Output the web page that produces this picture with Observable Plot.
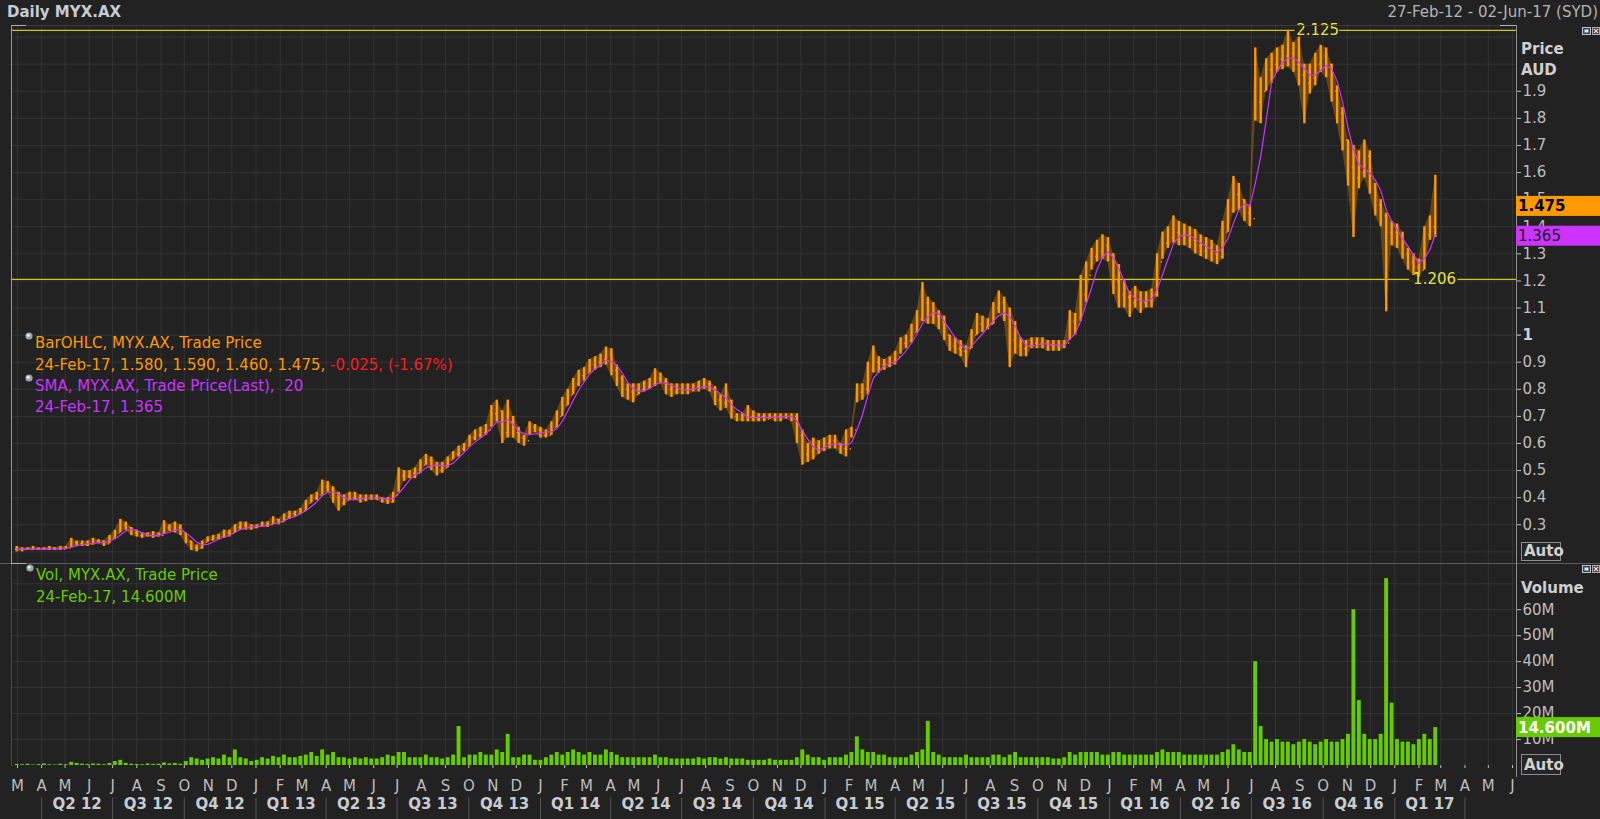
<!DOCTYPE html>
<html>
<head>
<meta charset="utf-8">
<script src="https://cdn.jsdelivr.net/npm/d3@7"></script>
<script src="https://cdn.jsdelivr.net/npm/@observablehq/plot@0.6"></script>
<style>
html, body { margin:0; padding:0; background:#222222; }
#root { position:relative; width:1600px; height:819px; background:#222222; overflow:hidden; font-family:"DejaVu Sans", Verdana, sans-serif; }
.layer { position:absolute; left:0; }
.line { position:absolute; }
</style>
</head>
<body>
<div id="root"></div>
<script>
// ---------------- DATA (weekly, week starting Monday 27-Feb-12 .. 20-Feb-17) ----------------
const firstWeek = "2012-02-27";
const lastWeek = "2017-02-20";

const high = [
  // 2012  Mar(5) Apr(5) May(4) Jun(4) Jul(5) Aug(4) Sep(4) Oct(5) Nov(4) Dec(5)
  .22,.215,.215,.22,.215, .215,.22,.215,.22,.22, .25,.24,.24,.24, .25,.245,.24,.26,
  .28,.32,.31,.29,.28, .27,.27,.275,.27, .315,.30,.31,.30, .27,.24,.225,.24,.255,
  .26,.265,.28,.28, .30,.31,.31,.30,.30,
  // 2013
  .31,.31,.33,.32, .34,.35,.35,.36, .39,.41,.42,.465, .46,.44,.42,.41,.42,
  .42,.41,.41,.41, .41,.40,.40,.42, .51,.50,.50,.51,.54, .56,.55,.53,.53,
  .55,.57,.59,.60,.63, .65,.66,.67,.74, .76,.72,.76,.70, .66,.63,.68,.67,.66,
  // 2014
  .65,.68,.72,.77, .80,.84,.87,.88, .91,.92,.93,.956,.95, .89,.85,.82,.82,
  .82,.83,.84,.876, .86,.84,.82,.82,.82, .82,.82,.83,.84, .83,.81,.78,.82,
  .76,.71,.71,.74,.72, .71,.71,.71,.71, .71,.71,.71,.71, .65,.60,.62,.61,.62,
  // 2015
  .63,.63,.60,.65, .66,.82,.82,.90, .96,.92,.91,.92,.94, .99,1.00,1.04,1.09,
  1.194,1.14,1.12,1.09, 1.07,1.00,.99,.98,.96, 1.02,1.08,1.07,1.06, 1.12,1.163,1.14,1.10,1.05,
  .99,.98,.99,.99, .99,.98,.98,.98, .98,1.09,1.08,1.22,1.27, 1.32,1.35,1.37,1.36,
  // 2016
  1.30,1.26,1.20,1.16, 1.18,1.16,1.16,1.17,1.30, 1.38,1.40,1.44,1.42, 1.41,1.40,1.39,1.37,
  1.36,1.35,1.33,1.42,1.50, 1.586,1.56,1.50,1.48, 2.06,1.95,2.02,2.04, 2.06,2.07,2.125,2.08,2.10,
  2.00,2.00,2.04,2.07, 2.06,2.00,1.92,1.84,1.72, 1.70,1.68,1.72,1.68, 1.56,1.50,1.45,1.42,
  // 2017
  1.41,1.38,1.32,1.30,1.28, 1.40,1.44,1.59
];
const low = [
  // 2012
  .20,.20,.205,.205,.205, .205,.205,.205,.205,.21, .215,.22,.22,.22, .225,.23,.22,.23,
  .25,.27,.28,.26,.255, .25,.255,.25,.255, .265,.275,.27,.26, .23,.205,.20,.21,.235,
  .24,.245,.25,.255, .27,.28,.28,.28,.285,
  // 2013
  .29,.29,.30,.30, .31,.32,.33,.34, .35,.38,.39,.41, .42,.38,.35,.37,.39,
  .39,.38,.385,.39, .39,.38,.375,.38, .42,.46,.47,.47,.49, .52,.50,.48,.49,
  .51,.54,.55,.57,.59, .61,.62,.63,.66, .68,.60,.62,.62, .60,.59,.63,.64,.62,
  // 2014
  .62,.63,.66,.70, .74,.78,.81,.83, .86,.87,.88,.89,.85, .81,.77,.76,.75,
  .78,.79,.80,.81, .82,.78,.77,.78,.78, .78,.79,.79,.80, .79,.74,.72,.73,
  .69,.68,.68,.68,.68, .68,.68,.69,.68, .68,.69,.68,.60, .52,.53,.54,.56,.57,
  // 2015
  .58,.58,.56,.55, .62,.75,.76,.78, .86,.86,.87,.88,.89, .93,.95,.97,1.01,
  1.05,1.04,1.04,1.02, .98,.94,.93,.92,.88, .95,1.00,1.01,1.02, 1.04,1.08,1.05,.88,.93,
  .92,.92,.95,.95, .95,.94,.94,.94, .95,.98,1.00,1.05,1.12, 1.24,1.27,1.28,1.27,
  // 2016
  1.15,1.10,1.10,1.065, 1.10,1.08,1.10,1.10,1.14, 1.28,1.32,1.34,1.33, 1.33,1.32,1.30,1.29,
  1.28,1.27,1.26,1.28,1.38, 1.45,1.46,1.42,1.40, 1.79,1.78,1.90,1.93, 1.97,1.98,1.99,1.97,1.92,
  1.78,1.89,1.92,1.97, 1.95,1.86,1.78,1.68,1.55, 1.36,1.54,1.58,1.52, 1.44,1.40,1.086,1.33,
  // 2017
  1.32,1.28,1.24,1.22,1.215, 1.24,1.35,1.36
];
const close = [
  // 2012
  .21,.21,.21,.21,.21, .21,.215,.21,.21,.215, .235,.23,.225,.23, .24,.24,.23,.25,
  .27,.30,.29,.27,.26, .26,.26,.26,.26, .29,.28,.29,.27, .24,.215,.215,.235,.245,
  .25,.255,.27,.27, .29,.30,.29,.29,.295,
  // 2013
  .30,.30,.32,.31, .33,.34,.34,.35, .38,.40,.41,.44, .43,.40,.38,.39,.40,
  .40,.395,.40,.40, .40,.39,.385,.41, .48,.48,.49,.49,.52, .54,.52,.50,.51,
  .54,.56,.58,.59,.62, .63,.64,.65,.71, .72,.64,.68,.64, .62,.61,.66,.65,.63,
  // 2014
  .63,.66,.70,.74, .78,.82,.85,.86, .89,.90,.91,.93,.87, .84,.80,.79,.78,
  .80,.81,.82,.84, .83,.80,.79,.80,.80, .80,.81,.81,.82, .80,.76,.75,.76,
  .70,.69,.70,.70,.69, .70,.69,.70,.70, .70,.70,.70,.63, .56,.57,.59,.58,.60,
  // 2015
  .61,.60,.58,.58, .65,.79,.80,.87, .90,.89,.89,.90,.92, .97,.98,1.01,1.06,
  1.12,1.08,1.07,1.05, 1.00,.96,.95,.94,.95, 1.00,1.04,1.03,1.04, 1.10,1.12,1.07,.98,.96,
  .95,.96,.97,.97, .97,.96,.96,.96, .97,1.05,1.04,1.15,1.22, 1.29,1.31,1.33,1.30,
  // 2016
  1.20,1.15,1.14,1.12, 1.13,1.12,1.13,1.15,1.27, 1.34,1.36,1.38,1.37, 1.37,1.35,1.33,1.31,
  1.32,1.30,1.29,1.38,1.46, 1.52,1.50,1.45,1.43, 1.86,1.90,1.98,2.00, 2.02,2.03,2.04,2.00,1.96,
  1.93,1.95,2.00,2.03, 2.00,1.90,1.82,1.72,1.62, 1.58,1.60,1.66,1.55, 1.48,1.44,1.38,1.38,
  // 2017
  1.36,1.30,1.27,1.25,1.24, 1.37,1.40,1.475
];
// typical daily volume in each week, millions
const volumeM = [
  // 2012
  .4,.3,.5,.2,.4, .6,.3,.2,.5,.3, 1.2,.8,.5,.4, .6,.5,.3,.8,
  1.5,2.0,.8,.5,.4, .3,.6,.4,.5, 1.0,.6,.8,.5, 1.5,3,2.5,2,2.5,
  3,2.5,4,3, 6,3,2.5,1.5,2,
  // 2013
  3,2.5,3.5,3, 4,3,3,3.5, 4,5,3.5,6, 4,5,3,3,2.5,
  3,2.5,3,2.5, 2.5,3,4,3.5, 5,5,3,3,3, 4,3,3,2.5,
  3,4,15,3,4, 4,5,4,4, 6,5,12,3, 3,4,4,2,2,
  // 2014
  3,4,5,4, 5,6,5,4, 5,4,4,6,5, 4,3,3,3,
  3,3,3,4, 3,3,2.5,2.5,2.5, 2.5,2.5,3,2.5, 3,3,2.5,3,
  2.5,2.5,2.5,2,2, 2,2,2.5,2, 2,2,2,3, 6,4,3,3,2,
  // 2015
  3,3,3,4, 5,11,6,5, 5,4,4,3,3, 3,3,4,5,
  6,17,5,4, 3,3,3,3,4, 3,3,3,3, 4,4,3,4,5,
  3,3,3,3, 3,3,2.5,2.5, 3,5,4,5,5, 5,5,4,4,
  // 2016
  5,5,4,4, 4,4,4,4,5, 6,5,5,5, 4,4,4,4,
  4,4,4,5,6, 8,6,5,5, 40,15,10,9, 10,9,9,8,9,
  10,9,8,9, 10,9,9,10,12, 60,25,12,10, 10,12,72,24,
  // 2017
  10,9,9,8,10, 12,10,14.6
];

const priceTicks = [0.3,0.4,0.5,0.6,0.7,0.8,0.9,1.1,1.2,1.3,1.4,1.5,1.6,1.7,1.8,1.9];
const priceGrid = [0.2,0.3,0.4,0.5,0.6,0.7,0.8,0.9,1.0,1.1,1.2,1.3,1.4,1.5,1.6,1.7,1.8,1.9,2.0,2.1];
const volTicks = [10e6,20e6,30e6,40e6,50e6,60e6];
const volGrid = [10e6,20e6,30e6,40e6,50e6,60e6,70e6];
const monthLetters = ["J","F","M","A","M","J","J","A","S","O","N","D"];
const levels = [
  {value: 2.125, label: "2.125", at: "2016-09-24", segs: [["2012-02-22","2016-08-26"],["2016-10-22","2017-06-06"]]},
  {value: 1.206, label: "1.206", at: "2017-02-21", segs: [["2012-02-22","2017-01-20"],["2017-03-23","2017-06-06"]]}
];
const lastBar = {date:"24-Feb-17", open:1.580, high:1.590, low:1.460, close:1.475, chg:"-0.025", pct:"(-1.67%)", sma:1.365, vol:"14.600M", volValue:14.6e6};

// ---------------- STYLE ----------------
const BG = "#222222", GRID = "#333333", AXIS = "#8c8c8c", TXT = "#c4c4c4";
const ORANGE = "#ff9900", PURPLE = "#cc33ff", GREEN = "#66cc00", YELLOW = "#c8c81a", YELLOWTXT = "#e6e63c";
const FONT = "DejaVu Sans, Verdana, sans-serif";

// ---------------- BUILD ----------------
const weeks = d3.utcMonday.range(new Date(firstWeek), d3.utcDay.offset(new Date(lastWeek), 1));
const bars = weeks.map((d, i) => ({
  start: d,
  mid: d3.utcDay.offset(d, 2),
  end: d3.utcDay.offset(d, 5),
  tickL: d3.utcHour.offset(d, 6),
  tickR: d3.utcHour.offset(d, 90),
  high: high[i], low: low[i], close: close[i],
  open: i ? close[i - 1] : close[0],
  vol: volumeM[i] * 1e6
}));
const segRows = levels.flatMap(l => l.segs.map(s => ({value: l.value, x1: new Date(s[0]), x2: new Date(s[1])})));
const months = d3.utcMonth.range(new Date("2012-03-01"), new Date("2017-06-02"));
const quarterStarts = d3.utcMonth.every(3).range(new Date("2012-04-01"), new Date("2017-04-02"));
const quarters = quarterStarts.slice(0, -1).map((d, i) => ({
  mid: new Date((+d + +quarterStarts[i + 1]) / 2),
  label: "Q" + (Math.floor(d.getUTCMonth() / 3) + 1) + " " + String(d.getUTCFullYear()).slice(2)
}));

const xOpts = {type: "utc", domain: [new Date("2012-03-01"), new Date("2017-06-01")], range: [17, 1512], axis: null};
const PRICE_TOP = 25, PRICE_H = 538, VOL_TOP = 563, VOL_H = 256, VOL_MB = 54;

const price = Plot.plot({
  width: 1600, height: PRICE_H,
  marginLeft: 11, marginRight: 84, marginTop: 0, marginBottom: 0,
  style: {background: "transparent", color: TXT, fontFamily: FONT, fontSize: "14px", overflow: "visible"},
  x: xOpts,
  y: {domain: [0.157, 2.1428], axis: null},
  marks: [
    Plot.ruleY(priceGrid, {stroke: GRID}),
    Plot.ruleX(months, {stroke: GRID}),
    Plot.ruleY(segRows, {y: "value", x1: "x1", x2: "x2", stroke: YELLOW, strokeWidth: 1.2}),
    Plot.areaY(bars, {x: "mid", y1: "low", y2: "high", fill: ORANGE, fillOpacity: 0.3, curve: "linear"}),
    Plot.ruleX(bars, {x: "mid", y1: "low", y2: "high", stroke: ORANGE, strokeWidth: 2.4}),
    Plot.ruleY(bars, {y: "open", x1: "tickL", x2: "mid", stroke: ORANGE, strokeWidth: 1.4}),
    Plot.ruleY(bars, {y: "close", x1: "mid", x2: "tickR", stroke: ORANGE, strokeWidth: 1.4}),
    Plot.lineY(bars, Plot.windowY({k: 4, anchor: "end"}, {x: "mid", y: "close", stroke: PURPLE, strokeWidth: 1.2})),
    Plot.text(levels, {x: d => new Date(d.at), y: "value", text: "label", fill: YELLOWTXT, fontSize: 15}),
    Plot.axisY(priceTicks, {anchor: "right", tickSize: 4, tickPadding: 2, tickFormat: d => d.toFixed(1), fontSize: 15, color: "#bdbdbd", label: null}),
    Plot.axisY([1], {anchor: "right", tickSize: 4, tickPadding: 2, tickFormat: () => "1", fontSize: 15, fontWeight: "bold", color: "#d0d0d0", label: null})
  ]
});

const vol = Plot.plot({
  width: 1600, height: VOL_H,
  marginLeft: 11, marginRight: 84, marginTop: 0, marginBottom: VOL_MB,
  style: {background: "transparent", color: TXT, fontFamily: FONT, fontSize: "14px", overflow: "visible"},
  x: {...xOpts},
  y: {domain: [0, 77.8e6], axis: null},
  marks: [
    Plot.ruleY(volGrid, {stroke: GRID}),
    Plot.ruleX(months, {stroke: GRID}),
    Plot.rectY(bars, {x1: "start", x2: "end", y: "vol", fill: GREEN}),
    Plot.axisY(volTicks, {anchor: "right", tickSize: 4, tickPadding: 2, tickFormat: d => (d / 1e6) + "M", fontSize: 15, color: "#bdbdbd", label: null}),
    Plot.axisX(months, {anchor: "bottom", tickSize: 3, tickPadding: 12, tickFormat: d => monthLetters[d.getUTCMonth()], fontSize: 15, color: "#bdbdbd", label: null}),
    Plot.ruleX(quarterStarts, {y1: -12.5e6, y2: -21e6, stroke: "#555555"}),
    Plot.text(quarters, {x: "mid", text: "label", frameAnchor: "bottom", dy: 43, fontSize: 15, fontWeight: "bold", fill: "#c8ccd0"})
  ]
});

const root = document.getElementById("root");
function place(node, top) {
  const wrap = document.createElement("div");
  wrap.className = "layer";
  wrap.style.top = top + "px";
  wrap.appendChild(node);
  root.appendChild(wrap);
}
place(price, PRICE_TOP);
place(vol, VOL_TOP);

function line(x, y, w, h, color) {
  const d = document.createElement("div");
  d.className = "line";
  Object.assign(d.style, {left: x + "px", top: y + "px", width: w + "px", height: h + "px", background: color});
  root.appendChild(d);
}
// panel frames
line(11, 25, 1505, 1, "#3c3c3c");
line(11, 25, 15, 1, "#b0b0b0");
line(1500, 25, 16, 1, "#b0b0b0");
line(11, 25, 1, 538, "#9a9a9a");
line(0, 563, 1600, 1, "#5a5a5a");
line(11, 563, 15, 1, "#b0b0b0");
line(11, 564, 1, 202, "#4a4a4a");
line(1516, 25, 1, 752, "#8c8c8c");

// overlay text
const ys = price.scale("y"), yv = vol.scale("y");
const svg = d3.create("svg").attr("width", 1600).attr("height", 819)
  .style("position", "absolute").style("left", "0px").style("top", "0px")
  .style("font-family", FONT);

svg.append("text").attr("x", 7).attr("y", 17).attr("font-size", 15).attr("font-weight", "bold").attr("fill", "#c5ccd4").text("Daily MYX.AX");
svg.append("text").attr("x", 1598).attr("y", 17).attr("font-size", 15).attr("text-anchor", "end").attr("fill", "#b4b4b4").text("27-Feb-12 - 02-Jun-17 (SYD)");

svg.append("text").attr("x", 1521).attr("y", 54).attr("font-size", 15).attr("font-weight", "bold").attr("fill", "#cfcfcf").text("Price");
svg.append("text").attr("x", 1521).attr("y", 75).attr("font-size", 15).attr("font-weight", "bold").attr("fill", "#cfcfcf").text("AUD");
svg.append("text").attr("x", 1521).attr("y", 593).attr("font-size", 15).attr("font-weight", "bold").attr("fill", "#cfcfcf").text("Volume");

// legend
function bullet(x, y) {
  svg.append("circle").attr("cx", x).attr("cy", y).attr("r", 3.6).attr("fill", "#9aa4ae");
  svg.append("circle").attr("cx", x - 0.8).attr("cy", y - 0.8).attr("r", 1.5).attr("fill", "#e8eef4");
}
bullet(29, 336); bullet(29, 378); bullet(30, 568);
const LF = 15;
svg.append("text").attr("x", 35).attr("y", 348).attr("font-size", LF).attr("fill", ORANGE).text("BarOHLC, MYX.AX, Trade Price");
const l2 = svg.append("text").attr("x", 35).attr("y", 369.5).attr("font-size", LF).attr("fill", ORANGE);
l2.append("tspan").text(`${lastBar.date}, ${lastBar.open.toFixed(3)}, ${lastBar.high.toFixed(3)}, ${lastBar.low.toFixed(3)}, ${lastBar.close.toFixed(3)}, `);
l2.append("tspan").attr("fill", "#ff1a1a").text(`${lastBar.chg}, ${lastBar.pct}`);
svg.append("text").attr("x", 35).attr("y", 390.7).attr("font-size", LF).attr("fill", PURPLE).text("SMA, MYX.AX, Trade Price(Last),\u00a0\u00a020");
svg.append("text").attr("x", 35).attr("y", 411.7).attr("font-size", LF).attr("fill", PURPLE).text(`${lastBar.date}, ${lastBar.sma.toFixed(3)}`);
svg.append("text").attr("x", 36).attr("y", 580).attr("font-size", LF).attr("fill", GREEN).text("Vol, MYX.AX, Trade Price");
svg.append("text").attr("x", 36).attr("y", 601.7).attr("font-size", LF).attr("fill", GREEN).text(`${lastBar.date}, ${lastBar.vol}`);

// value badges on the axes
function badge(yc, fill, label, color, weight) {
  svg.append("rect").attr("x", 1516).attr("y", yc - 10).attr("width", 84).attr("height", 20).attr("fill", fill);
  svg.append("text").attr("x", 1518).attr("y", yc + 5.5).attr("font-size", 15).attr("font-weight", weight).attr("fill", color).text(label);
}
badge(PRICE_TOP + ys.apply(lastBar.close), ORANGE, lastBar.close.toFixed(3), "#000000", "bold");
badge(PRICE_TOP + ys.apply(lastBar.sma), PURPLE, lastBar.sma.toFixed(3), "#1a1a1a", "normal");
badge(VOL_TOP + yv.apply(lastBar.volValue), GREEN, lastBar.vol, "#ffffff", "bold");

// Auto boxes
function autoBox(x, y, w, h) {
  svg.append("rect").attr("x", x + 0.5).attr("y", y + 0.5).attr("width", w).attr("height", h).attr("fill", "#262626").attr("stroke", "#8c8c8c");
  svg.append("text").attr("x", x + 3).attr("y", y + h - 4).attr("font-size", 15).attr("font-weight", "bold").attr("fill", "#d0d0d0").text("Auto");
}
autoBox(1521, 542, 39, 18);
autoBox(1521, 754, 39, 20);

// window icons
function icons(y) {
  svg.append("rect").attr("x", 1582.5).attr("y", y + 0.5).attr("width", 8).attr("height", 7).attr("fill", "#3a4450").attr("stroke", "#b8c4d0");
  svg.append("rect").attr("x", 1584.5).attr("y", y + 2.5).attr("width", 4).attr("height", 3).attr("fill", "#dde4ea");
  svg.append("rect").attr("x", 1592.5).attr("y", y + 0.5).attr("width", 7).attr("height", 7).attr("fill", "#4a3a3a").attr("stroke", "#b8a8a8");
  svg.append("path").attr("d", `M${1594},${y + 2}L${1598},${y + 6}M${1598},${y + 2}L${1594},${y + 6}`).attr("stroke", "#e0e0e0").attr("stroke-width", 1.2);
}
icons(27); icons(565);

root.appendChild(svg.node());
</script>
</body>
</html>
